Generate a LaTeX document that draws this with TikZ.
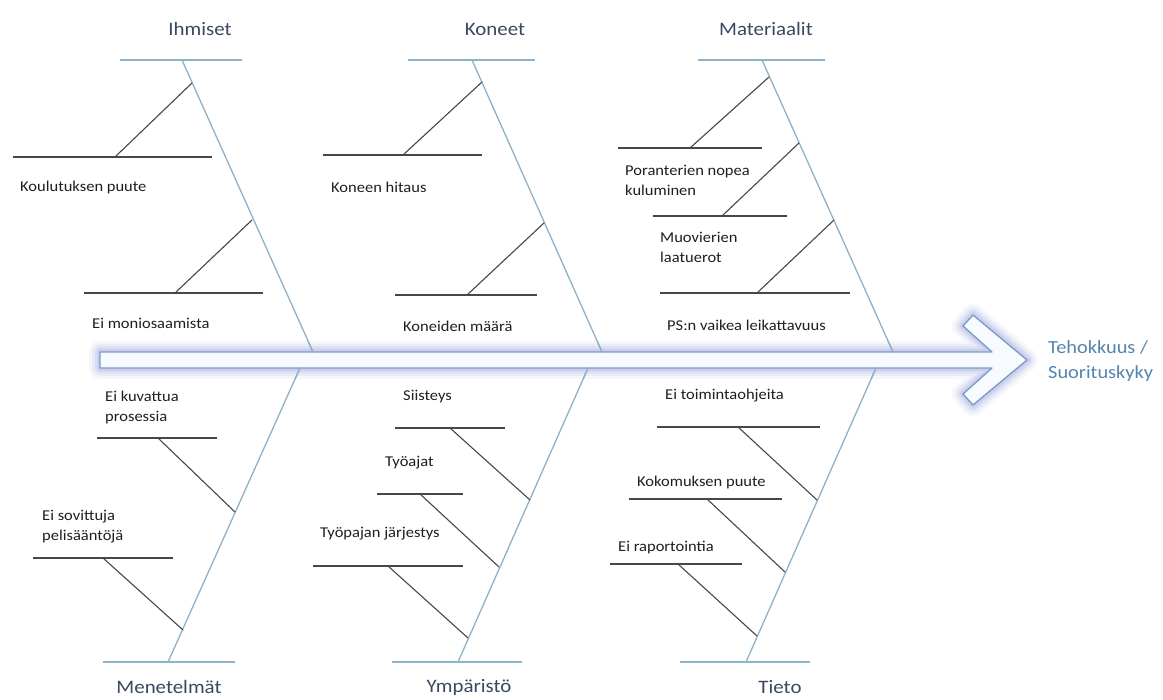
\documentclass[tikz,border=0pt]{standalone}
\usepackage{fontspec}
\setmainfont{Carlito}[FakeStretch=1.1]
\usetikzlibrary{calc}

\definecolor{bonegray}{HTML}{474747}
\definecolor{spineblue}{HTML}{8DB2C9}
\definecolor{titleslate}{HTML}{3A4862}
\definecolor{effectblue}{HTML}{5584AC}
\definecolor{glowlav}{HTML}{AEB4E4}
\definecolor{arrowedge}{HTML}{7A9AC2}
\definecolor{arrowfill}{HTML}{F7FAFF}

% one cause: horizontal bar plus the slanted twig to the category spine
% #1 name, #2 left x, #3 right x, #4 bar y, #5 foot x, #6 spine x, #7 spine y
\newcommand\causebar[7]{%
  \coordinate (#1-l) at (#2,#4);
  \coordinate (#1-r) at (#3,#4);
  \coordinate (#1-f) at (#5,#4);
  \coordinate (#1-s) at (#6,#7);
  \draw[subbar] (#1-l) -- (#1-r);
  \draw[twig] (#1-f) -- (#1-s);}

\begin{document}
\begin{tikzpicture}[x=1pt,y=-1pt,
  catbar/.style={draw=spineblue,line width=2pt},
  spine/.style={draw=spineblue,line width=1.3pt},
  subbar/.style={draw=bonegray,line width=1.6pt},
  twig/.style={draw=bonegray,line width=1.1pt},
  cause/.style={font=\fontsize{15}{20}\selectfont,text=black!88,inner sep=0pt,anchor=west,align=left},
  category/.style={font=\fontsize{19}{23}\selectfont,text=titleslate,inner sep=0pt},
  effect/.style={font=\fontsize{18.5}{25}\selectfont,text=effectblue,inner sep=0pt,anchor=west,align=left},
  glow/.style={draw=glowlav,line join=round},
]
\useasboundingbox (0,0) rectangle (1163,700);
\fill[white] (0,0) rectangle (1163,700);

% ---- category bars and spines ----
\coordinate (ihm-bl) at (120,60);  \coordinate (ihm-br) at (242,60);
\coordinate (ihm-t) at (182,60);   \coordinate (ihm-h) at (313,352);
\coordinate (kon-bl) at (408,60);  \coordinate (kon-br) at (535,60);
\coordinate (kon-t) at (472,60);   \coordinate (kon-h) at (602,352);
\coordinate (mat-bl) at (698,60);  \coordinate (mat-br) at (825,60);
\coordinate (mat-t) at (762,60);   \coordinate (mat-h) at (893,352);
\coordinate (men-bl) at (103,662); \coordinate (men-br) at (235,662);
\coordinate (men-t) at (168,662);  \coordinate (men-h) at (300,368);
\coordinate (ymp-bl) at (392,662); \coordinate (ymp-br) at (522,662);
\coordinate (ymp-t) at (458,662);  \coordinate (ymp-h) at (588,368);
\coordinate (tie-bl) at (680,662); \coordinate (tie-br) at (810,662);
\coordinate (tie-t) at (746,662);  \coordinate (tie-h) at (876,368);

\foreach \c in {ihm,kon,mat,men,ymp,tie}{
  \draw[catbar] (\c-bl) -- (\c-br);
  \draw[spine] (\c-t) -- (\c-h);
}

% ---- category titles ----
\node[category] (ihmT) at (200,29) {Ihmiset};
\node[category] (konT) at (495,29) {Koneet};
\node[category] (matT) at (766,29) {Materiaalit};
\node[category] (menT) at (169,687) {Menetelmät};
\node[category] (ympT) at (469,687) {Ympäristö};
\node[category] (tieT) at (780,687) {Tieto};

% ---- causes: Ihmiset ----
\causebar{i1}{13}{212}{157}{115}{192}{83}
\causebar{i2}{84}{263}{293}{175}{252}{220}
\node[cause] (i1t) at (20,188) {Koulutuksen puute};
\node[cause] (i2t) at (92,323) {Ei moniosaamista};

% ---- causes: Koneet ----
\causebar{k1}{323}{482}{155}{403}{482}{82}
\causebar{k2}{395}{537}{295}{467}{544}{223}
\node[cause] (k1t) at (331,187) {Koneen hitaus};
\node[cause] (k2t) at (403,326) {Koneiden määrä};

% ---- causes: Materiaalit ----
\causebar{m1}{618}{762}{148}{690}{769}{77}
\causebar{m2}{653}{787}{216}{722}{799}{143}
\causebar{m3}{660}{850}{293}{757}{834}{220}
\node[cause] (m1t) at (625,180) {Poranterien nopea\\kuluminen};
\node[cause] (m2t) at (660,247) {Muovierien\\laatuerot};
\node[cause] (m3t) at (667,325) {PS:n vaikea leikattavuus};

% ---- causes: Menetelmät ----
\causebar{n1}{97}{217}{438}{158}{235}{512}
\causebar{n2}{33}{173}{558}{103}{183}{630}
\node[cause] (n1t) at (105,408) {Ei kuvattua\\prosessia};
\node[cause] (n2t) at (42,527) {Ei sovittuja\\pelisääntöjä};

% ---- causes: Ympäristö ----
\causebar{y1}{395}{505}{428}{450}{530}{500}
\causebar{y2}{377}{463}{494}{420}{499}{567}
\causebar{y3}{313}{463}{566}{388}{468}{638}
\node[cause] (y1t) at (403,397) {Siisteys};
\node[cause] (y2t) at (385,463) {Työajat};
\node[cause] (y3t) at (320,534) {Työpajan järjestys};

% ---- causes: Tieto ----
\causebar{t1}{657}{820}{427}{738}{817}{500}
\causebar{t2}{629}{782}{499}{707}{785}{572}
\causebar{t3}{610}{742}{564}{678}{757}{636}
\node[cause] (t1t) at (665,396) {Ei toimintaohjeita};
\node[cause] (t2t) at (637,483) {Kokomuksen puute};
\node[cause] (t3t) at (618,548) {Ei raportointia};

% ---- main arrow with soft glow ----
\def\mainarrow{(100,352) -- (992,352) -- (963,326) -- (973,315) -- (1027,360)
  -- (973,405) -- (963,394) -- (992,368) -- (100,368) -- cycle}
\draw[glow,line width=22pt,opacity=.10] \mainarrow;
\draw[glow,line width=16pt,opacity=.16] \mainarrow;
\draw[glow,line width=11pt,opacity=.24] \mainarrow;
\draw[glow,line width=6pt,opacity=.35] \mainarrow;
\draw[fill=arrowfill,draw=arrowedge,line width=1.3pt,line join=round] \mainarrow;

% redraw spine ends so they meet the arrow edge
\foreach \c in {ihm,kon,mat}{\draw[spine] ($(\c-h)!12pt!(\c-t)$) -- (\c-h);}
\foreach \c in {men,ymp,tie}{\draw[spine] ($(\c-h)!12pt!(\c-t)$) -- (\c-h);}

\node[effect] (eff) at (1048,361) {Tehokkuus /\\Suorituskyky};
\end{tikzpicture}
\end{document}
